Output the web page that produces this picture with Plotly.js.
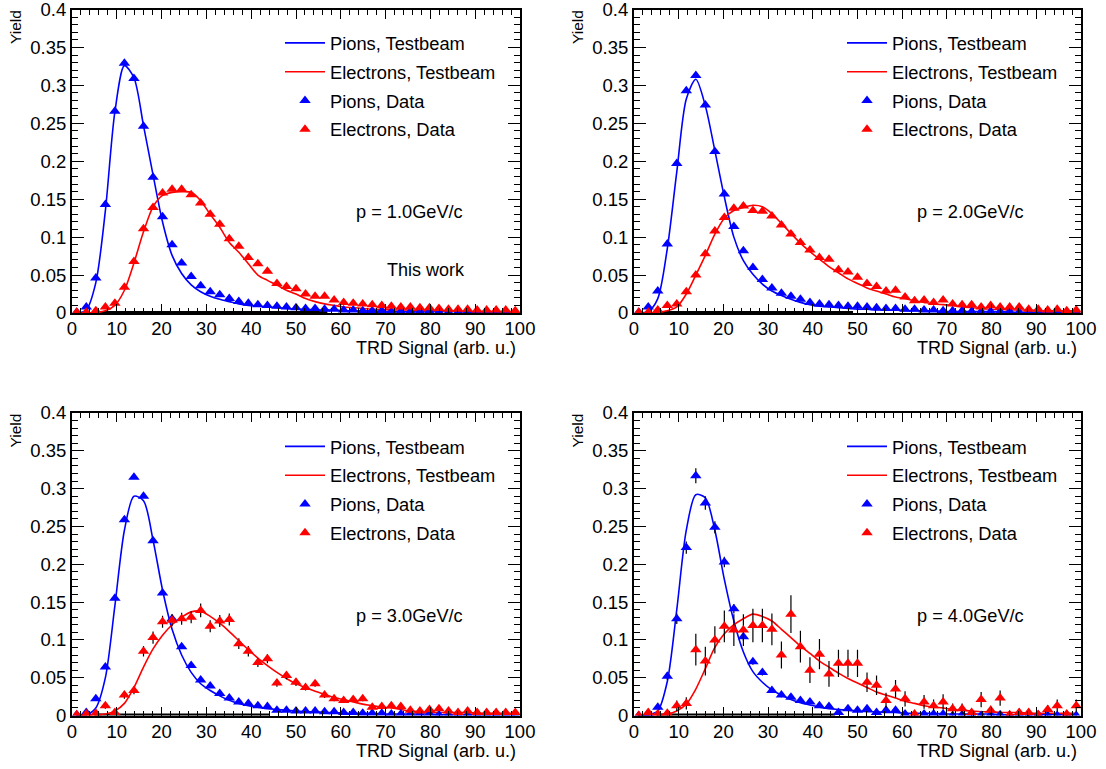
<!DOCTYPE html>
<html>
<head>
<meta charset="utf-8">
<script src="https://cdn.plot.ly/plotly-3.0.1.min.js"></script>
<style>html,body{margin:0;padding:0;background:#fff;}#chart{width:1106px;height:769px;}</style>
</head>
<body>
<div id="chart"></div>
<script>
// bin centres of the TRD signal histograms
const binX = [1.06,3.19,5.32,7.45,9.57,11.70,13.83,15.96,18.09,20.21,22.34,24.47,26.60,28.72,30.85,32.98,35.11,37.23,39.36,41.49,43.62,45.74,47.87,50.00,52.13,54.26,56.38,58.51,60.64,62.77,64.89,67.02,69.15,71.28,73.40,75.53,77.66,79.79,81.91,84.04,86.17,88.30,90.43,92.55,94.68,96.81,98.94];

const momenta = ["p = 1.0GeV/c","p = 2.0GeV/c","p = 3.0GeV/c","p = 4.0GeV/c"];
const seriesNames = ["Pions, Testbeam","Electrons, Testbeam","Pions, Data","Electrons, Data"];

// p = 1.0 GeV/c
const pionTB1 = [0.000,0.004,0.040,0.135,0.265,0.326,0.310,0.247,0.182,0.120,0.076,0.052,0.037,0.028,0.022,0.018,0.015,0.012,0.010,0.009,0.008,0.007,0.006,0.005,0.005,0.004,0.004,0.004,0.003,0.003,0.003,0.003,0.002,0.002,0.002,0.002,0.002,0.002,0.002,0.002,0.002,0.001,0.001,0.001,0.001,0.001,0.001];
const electronTB1 = [0.000,0.000,0.001,0.003,0.010,0.030,0.066,0.107,0.140,0.155,0.159,0.160,0.159,0.148,0.130,0.113,0.093,0.080,0.065,0.050,0.043,0.037,0.030,0.025,0.019,0.015,0.012,0.010,0.008,0.007,0.006,0.005,0.005,0.004,0.004,0.004,0.003,0.003,0.003,0.003,0.002,0.002,0.002,0.002,0.002,0.002,0.002];
const pionData1 = [0.001,0.008,0.046,0.143,0.266,0.329,0.309,0.246,0.179,0.127,0.090,0.066,0.048,0.036,0.028,0.024,0.019,0.015,0.013,0.011,0.010,0.009,0.008,0.007,0.006,0.006,0.005,0.005,0.004,0.004,0.003,0.003,0.003,0.002,0.002,0.002,0.002,0.002,0.001,0.001,0.001,0.001,0.001,0.001,0.001,0.001,0.001];
const electronData1 = [0.001,0.001,0.003,0.008,0.013,0.034,0.068,0.111,0.139,0.158,0.163,0.163,0.156,0.145,0.130,0.117,0.098,0.088,0.073,0.065,0.055,0.039,0.035,0.032,0.025,0.022,0.022,0.017,0.014,0.013,0.012,0.011,0.010,0.009,0.008,0.008,0.007,0.007,0.006,0.005,0.005,0.005,0.004,0.004,0.004,0.004,0.003];

// p = 2.0 GeV/c
const pionTB2 = [0.000,0.002,0.019,0.085,0.186,0.282,0.308,0.273,0.214,0.153,0.100,0.069,0.051,0.038,0.029,0.023,0.018,0.014,0.011,0.009,0.008,0.007,0.006,0.005,0.005,0.004,0.004,0.004,0.003,0.003,0.003,0.003,0.002,0.002,0.002,0.002,0.002,0.002,0.002,0.001,0.001,0.001,0.001,0.001,0.001,0.001,0.001];
const electronTB2 = [0.000,0.000,0.001,0.003,0.008,0.025,0.050,0.076,0.104,0.125,0.135,0.139,0.142,0.140,0.131,0.118,0.105,0.092,0.081,0.071,0.061,0.053,0.045,0.039,0.033,0.029,0.025,0.021,0.019,0.016,0.014,0.012,0.011,0.010,0.008,0.007,0.006,0.005,0.005,0.004,0.004,0.004,0.003,0.003,0.003,0.003,0.003];
const pionData2 = [0.001,0.008,0.029,0.091,0.197,0.293,0.313,0.274,0.213,0.157,0.114,0.082,0.060,0.044,0.033,0.026,0.022,0.018,0.014,0.012,0.011,0.010,0.009,0.009,0.008,0.007,0.006,0.006,0.005,0.005,0.004,0.004,0.003,0.003,0.003,0.002,0.002,0.002,0.002,0.002,0.001,0.001,0.001,0.001,0.001,0.001,0.001];
const electronData2 = [0.001,0.001,0.004,0.010,0.012,0.028,0.050,0.078,0.108,0.126,0.138,0.141,0.135,0.134,0.128,0.116,0.104,0.093,0.083,0.073,0.071,0.057,0.054,0.047,0.039,0.035,0.029,0.030,0.021,0.016,0.017,0.014,0.017,0.012,0.011,0.011,0.008,0.010,0.008,0.008,0.008,0.005,0.005,0.004,0.005,0.003,0.004];

// p = 3.0 GeV/c
const pionTB3 = [0.000,0.001,0.010,0.050,0.145,0.245,0.290,0.284,0.232,0.166,0.114,0.080,0.057,0.042,0.033,0.026,0.020,0.016,0.013,0.011,0.009,0.008,0.007,0.006,0.005,0.005,0.004,0.004,0.003,0.003,0.003,0.003,0.002,0.002,0.002,0.002,0.002,0.002,0.001,0.001,0.001,0.001,0.001,0.001,0.001,0.001,0.001];
const electronTB3 = [0.000,0.000,0.001,0.002,0.006,0.016,0.037,0.064,0.088,0.106,0.120,0.130,0.137,0.138,0.131,0.122,0.111,0.099,0.087,0.076,0.066,0.057,0.049,0.042,0.037,0.032,0.028,0.024,0.021,0.018,0.015,0.013,0.011,0.010,0.008,0.006,0.005,0.004,0.004,0.004,0.004,0.004,0.003,0.003,0.003,0.003,0.003];
const pionData3 = [0.001,0.004,0.022,0.064,0.155,0.259,0.315,0.290,0.231,0.162,0.128,0.091,0.066,0.047,0.039,0.029,0.023,0.018,0.016,0.013,0.012,0.007,0.007,0.006,0.006,0.006,0.005,0.005,0.004,0.004,0.003,0.003,0.003,0.002,0.002,0.002,0.002,0.002,0.001,0.001,0.001,0.001,0.001,0.001,0.001,0.001,0.001];
const electronData3 = [0.001,0.002,0.003,0.013,0.004,0.027,0.033,0.085,0.103,0.124,0.126,0.128,0.130,0.139,0.118,0.125,0.127,0.095,0.085,0.070,0.075,0.043,0.053,0.044,0.037,0.042,0.027,0.022,0.020,0.021,0.022,0.011,0.012,0.013,0.012,0.007,0.006,0.008,0.009,0.006,0.004,0.006,0.004,0.004,0.004,0.004,0.004];
const electronErr3 = [0.001,0.002,0.002,0.004,0.002,0.005,0.005,0.007,0.008,0.008,0.008,0.008,0.008,0.009,0.008,0.008,0.008,0.007,0.007,0.006,0.006,0.005,0.005,0.005,0.004,0.004,0.004,0.003,0.003,0.003,0.003,0.002,0.002,0.002,0.002,0.002,0.002,0.002,0.002,0.002,0.001,0.002,0.001,0.001,0.001,0.001,0.001];

// p = 4.0 GeV/c
const pionTB4 = [0.000,0.001,0.006,0.045,0.140,0.245,0.292,0.288,0.245,0.180,0.125,0.084,0.058,0.044,0.034,0.027,0.021,0.017,0.014,0.011,0.009,0.008,0.007,0.006,0.005,0.005,0.004,0.004,0.003,0.003,0.003,0.003,0.002,0.002,0.002,0.002,0.002,0.002,0.001,0.001,0.001,0.001,0.001,0.001,0.001,0.001,0.001];
const electronTB4 = [0.000,0.000,0.001,0.002,0.006,0.015,0.035,0.062,0.090,0.108,0.120,0.128,0.134,0.131,0.125,0.114,0.103,0.092,0.082,0.072,0.064,0.056,0.049,0.043,0.037,0.031,0.027,0.023,0.019,0.016,0.013,0.011,0.010,0.008,0.007,0.006,0.005,0.005,0.004,0.004,0.004,0.003,0.003,0.003,0.003,0.003,0.003];
const pionData4 = [0.000,0.002,0.011,0.052,0.128,0.222,0.317,0.281,0.249,0.203,0.141,0.104,0.071,0.057,0.033,0.027,0.024,0.020,0.018,0.013,0.012,0.004,0.009,0.007,0.009,0.004,0.007,0.007,0.002,0.000,0.002,0.002,0.002,0.000,0.001,0.001,0.000,0.001,0.001,0.000,0.001,0.000,0.001,0.000,0.000,0.001,0.000];
const pionErr4 = [0.001,0.001,0.003,0.005,0.007,0.008,0.010,0.009,0.008,0.007,0.006,0.005,0.004,0.004,0.003,0.003,0.003,0.003,0.003,0.002,0.002,0.002,0.002,0.002,0.002,0.002,0.002,0.002,0.001,0.001,0.001,0.001,0.001,0.001,0.001,0.001,0.001,0.001,0.001,0.001,0.001,0.001,0.001,0.001,0.001,0.001,0.001];
const electronData4 = [0.000,0.004,0.002,0.003,0.013,0.016,0.087,0.072,0.100,0.118,0.113,0.113,0.119,0.119,0.114,0.080,0.134,0.091,0.060,0.081,0.055,0.069,0.069,0.069,0.044,0.040,0.020,0.035,0.022,0.002,0.018,0.013,0.018,0.009,0.009,0.004,0.021,0.007,0.023,0.001,0.004,0.004,0.001,0.008,0.013,0.002,0.013];
const electronErr4 = [0.002,0.004,0.003,0.004,0.007,0.008,0.021,0.019,0.018,0.021,0.021,0.021,0.022,0.022,0.021,0.018,0.025,0.021,0.017,0.020,0.017,0.018,0.018,0.018,0.013,0.013,0.010,0.012,0.010,0.003,0.009,0.008,0.010,0.007,0.007,0.005,0.010,0.006,0.010,0.002,0.005,0.005,0.002,0.006,0.008,0.003,0.008];

// black reference line lying on the x axis
const baselineX = [[6,57],[6,49],[5,44],[5,45]];
const baselineY = [0,0];

const panels = [
  {pTB: pionTB1, eTB: electronTB1, pD: pionData1, eD: electronData1, pE: null, eE: null},
  {pTB: pionTB2, eTB: electronTB2, pD: pionData2, eD: electronData2, pE: null, eE: null},
  {pTB: pionTB3, eTB: electronTB3, pD: pionData3, eD: electronData3, pE: null, eE: electronErr3},
  {pTB: pionTB4, eTB: electronTB4, pD: pionData4, eD: electronData4, pE: pionErr4, eE: electronErr4}
];

const BLUE = "#0000ff", RED = "#ff0000";
const FONT = "Liberation Sans, Arial, Helvetica, sans-serif";
const W = 1106, H = 769;

// panel frames in pixels [left, right, top, bottom]
const frames = [[72,520,9.5,313],[634,1081,9.5,313],[72,520,413,715.5],[634,1081,413,715.5]];

const traces = [];
panels.forEach((p, k) => {
  const xa = k === 0 ? "x" : "x" + (k + 1);
  const ya = k === 0 ? "y" : "y" + (k + 1);
  const lg = k === 0 ? "legend" : "legend" + (k + 1);
  traces.push({x: baselineX[k], y: baselineY, xaxis: xa, yaxis: ya, mode: "lines",
    line: {color: "#000", width: 4}, showlegend: false, hoverinfo: "skip"});
  traces.push({x: binX, y: p.pTB, xaxis: xa, yaxis: ya, mode: "lines", name: seriesNames[0],
    legend: lg, legendgroup: "a" + k, line: {color: BLUE, width: 1.6, shape: "spline", smoothing: 0.8}});
  traces.push({x: binX, y: p.eTB, xaxis: xa, yaxis: ya, mode: "lines", name: seriesNames[1],
    legend: lg, legendgroup: "b" + k, line: {color: RED, width: 1.6, shape: "spline", smoothing: 0.8}});
  const pd = {x: binX, y: p.pD, xaxis: xa, yaxis: ya, mode: "markers", name: seriesNames[2],
    legend: lg, legendgroup: "c" + k, cliponaxis: true,
    marker: {symbol: "triangle-up", size: 10, color: BLUE, line: {width: 0}}};
  if (p.pE) pd.error_y = {type: "data", array: p.pE, visible: true, color: "#000", thickness: 1.2, width: 0};
  traces.push(pd);
  const ed = {x: binX, y: p.eD, xaxis: xa, yaxis: ya, mode: "markers", name: seriesNames[3],
    legend: lg, legendgroup: "d" + k, cliponaxis: true,
    marker: {symbol: "triangle-up", size: 10, color: RED, line: {width: 0}}};
  if (p.eE) ed.error_y = {type: "data", array: p.eE, visible: true, color: "#000", thickness: 1.2, width: 0};
  traces.push(ed);
});

const layout = {
  width: W, height: H,
  margin: {l: 0, r: 0, t: 0, b: 0},
  paper_bgcolor: "#fff", plot_bgcolor: "#fff",
  font: {family: FONT, size: 18, color: "#000"},
  annotations: [],
  showlegend: true
};

frames.forEach((f, k) => {
  const sx = k === 0 ? "" : String(k + 1);
  layout["xaxis" + sx] = {
    domain: [f[0] / W, f[1] / W], anchor: "y" + sx, range: [0, 100], dtick: 10, tick0: 0,
    showline: true, linecolor: "#000", linewidth: 2, mirror: "allticks",
    ticks: "inside", ticklen: 9, tickwidth: 1, tickcolor: "#000",
    minor: {dtick: 2, ticks: "inside", ticklen: 5, tickwidth: 1, tickcolor: "#000"},
    showgrid: false, zeroline: false, fixedrange: true,
    ticklabeloverflow: "allow", ticklabelstandoff: -2,
    tickfont: {family: FONT, size: 18.5, color: "#000"}
  };
  layout["yaxis" + sx] = {
    domain: [1 - f[3] / H, 1 - f[2] / H], anchor: "x" + sx, range: [0, 0.4], dtick: 0.05, tick0: 0,
    showline: true, linecolor: "#000", linewidth: 2, mirror: "allticks",
    ticks: "inside", ticklen: 12, tickwidth: 1, tickcolor: "#000",
    minor: {dtick: 0.01, ticks: "inside", ticklen: 6, tickwidth: 1, tickcolor: "#000"},
    showgrid: false, zeroline: false, fixedrange: true,
    ticklabeloverflow: "allow",
    tickfont: {family: FONT, size: 18.5, color: "#000"}
  };
  const lg = k === 0 ? "legend" : "legend" + (k + 1);
  layout[lg] = {
    x: (f[0] + 208) / W, xanchor: "left", y: 1 - (f[2] + 15) / H, yanchor: "top",
    bgcolor: "rgba(0,0,0,0)", borderwidth: 0, tracegroupgap: 2,
    font: {family: FONT, size: 18.3, color: "#000"}, itemwidth: 40
  };
  // momentum label
  layout.annotations.push({xref: "paper", yref: "paper", x: (f[1] - 55) / W, y: 1 - (f[2] + (k < 2 ? 202.5 : 203)) / H,
    xanchor: "right", yanchor: "middle", text: momenta[k], showarrow: false,
    font: {family: FONT, size: 18.2, color: "#000"}});
  // axis titles
  layout.annotations.push({xref: "paper", yref: "paper", x: (f[0] - 57) / W, y: 1 - (f[2] - 1.5) / H,
    xanchor: "center", yanchor: "top", text: "Yield", textangle: -90, showarrow: false,
    font: {family: FONT, size: 15.5, color: "#000"}});
  layout.annotations.push({xref: "paper", yref: "paper", x: (f[1] - 2) / W, y: 1 - (f[3] + 35) / H,
    xanchor: "right", yanchor: "middle", text: "TRD Signal (arb. u.)", showarrow: false,
    font: {family: FONT, size: 18, color: "#000"}});
});
layout.annotations.push({xref: "paper", yref: "paper", x: 467 / W, y: 1 - 270 / H,
  xanchor: "right", yanchor: "middle", text: "This work", showarrow: false,
  font: {family: FONT, size: 18, color: "#000"}});

Plotly.newPlot("chart", traces, layout, {staticPlot: true, displayModeBar: false});
</script>
</body>
</html>
